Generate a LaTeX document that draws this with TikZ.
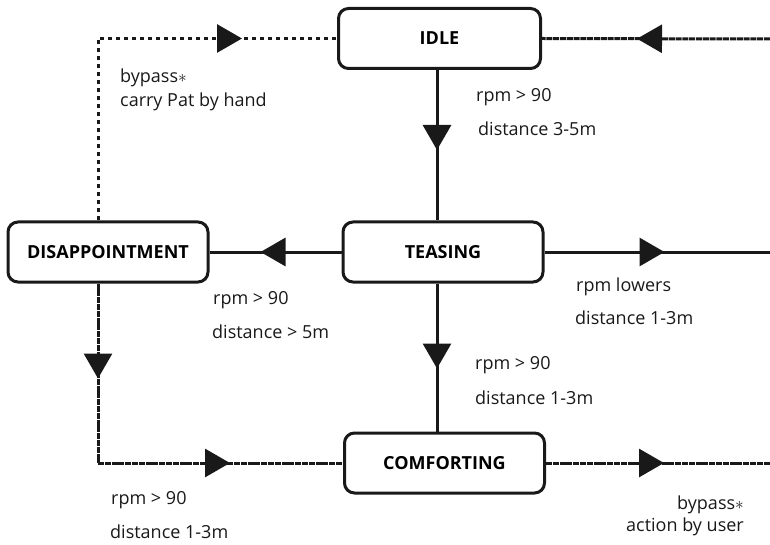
\documentclass[tikz,border=0pt]{standalone}
\usepackage{fontspec}
\setmainfont{Open Sans}
\usetikzlibrary{arrows.meta,decorations.markings}
\begin{document}
\begin{tikzpicture}[x=1pt,y=-1pt,
  statebox/.style={draw=black!90,line width=3pt,rounded corners=10pt,fill=white,
    minimum width=200pt,minimum height=60pt,font=\bfseries\fontsize{18}{21}\selectfont,inner sep=0pt},
  conn/.style={line width=3pt,draw=black!90},
  dashconn/.style={conn,dash pattern=on 6pt off 0.8pt},
  dotconn/.style={line width=3pt,draw=black!90,dash pattern=on 4pt off 4pt},
  tipat/.style={postaction={decorate,decoration={markings,
     mark=at position #1 with {\arrow{Triangle[length=25pt,width=28pt]}}}}},
  lbl/.style={font=\fontsize{18}{21}\selectfont,inner sep=0pt,anchor=west,text=black!90}]
\useasboundingbox (0,0) rectangle (770,545);
% nodes
\node[statebox,minimum width=202pt] (idle) at (439.5,38.5) {IDLE};
\node[statebox] (teas) at (443,252) {TEASING};
\node[statebox] (dis) at (108,252) {DISAPPOINTMENT};
\node[statebox] (comf) at (444.5,463) {COMFORTING};
\coordinate (vx) at (437,0);
\coordinate (dx) at (98,0);
\coordinate (ridle) at (770,39);
\coordinate (rteas) at (770,252);
\coordinate (rcomf) at (770,463);
% connectors
\draw[dashconn,tipat=133pt] (ridle) -- (idle.east);
\draw[dotconn,tipat=326pt] (dis.north -| dx) |- (idle.west);
\draw[conn,tipat=80pt] (idle.south -| vx) -- (teas.north -| vx);
\draw[conn,tipat=81pt] (teas.west) -- (dis.east);
\draw[conn,tipat=120pt] (teas.east) -- (rteas);
\draw[conn,tipat=85pt] (teas.south -| vx) -- (comf.north -| vx);
\draw[dashconn,tipat=95pt] (dis.south -| dx) -- (dx |- comf.west);
\draw[dashconn,tipat=132pt] (dx |- comf.west) -- (comf.west);
\draw[dashconn,tipat=118pt] (comf.east) -- (rcomf);
% labels
\node[lbl] (l1) at (120,78) {bypass$\ast$};
\node[lbl] (l2) at (120,102) {carry Pat by hand};
\node[lbl] (l3) at (476,97) {rpm > 90};
\node[lbl] (l4) at (478,129) {distance 3-5m};
\node[lbl] (l5) at (213,300) {rpm > 90};
\node[lbl] (l6) at (212,332) {distance > 5m};
\node[lbl] (l7) at (576,287) {rpm lowers};
\node[lbl] (l8) at (575,318) {distance 1-3m};
\node[lbl] (l9) at (475,365) {rpm > 90};
\node[lbl] (l10) at (475,398) {distance 1-3m};
\node[lbl] (l11) at (111,500) {rpm > 90};
\node[lbl] (l12) at (110,532) {distance 1-3m};
\node[lbl,anchor=east] (l13) at (744,505) {bypass$\ast$};
\node[lbl,anchor=east] (l14) at (744,527) {action by user};
\end{tikzpicture}
\end{document}
